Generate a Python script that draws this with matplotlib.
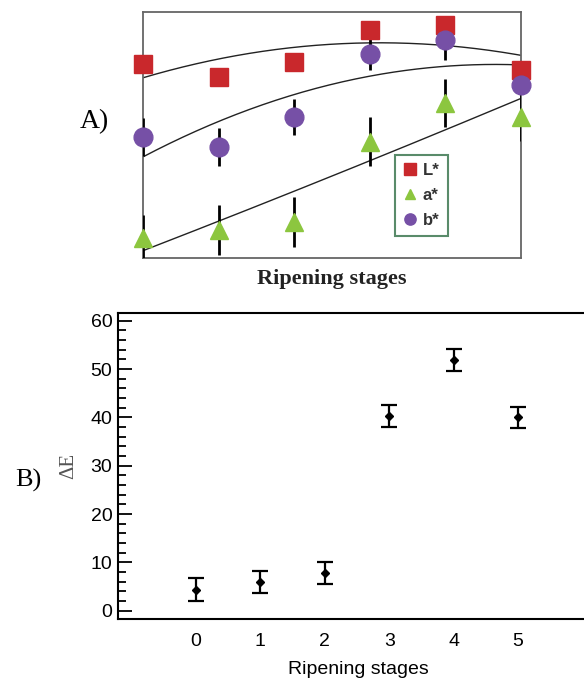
import numpy as np
import matplotlib
matplotlib.use("Agg")
import matplotlib.pyplot as plt
from matplotlib.ticker import MultipleLocator

# ---- Panel A data (relative units, no axis scale shown) ----
stages_a = [0, 1, 2, 3, 4, 5]
L_vals = [78.9, 73.6, 79.7, 92.7, 94.7, 76.4]
a_vals = [8.1, 11.4, 14.6, 47.2, 63.0, 57.3]
a_err = [9.4, 10.0, 10.0, 10.0, 9.8, 9.8]
b_vals = [49.2, 45.1, 57.3, 82.9, 88.6, 70.3]
b_err = [7.7, 7.6, 7.3, 6.5, 8.0, 4.0]

# ---- Panel B data ----
stages_b = [0, 1, 2, 3, 4, 5]
dE_vals = [4.4, 5.9, 7.8, 40.3, 51.9, 40.0]
dE_err = [2.4, 2.3, 2.3, 2.3, 2.3, 2.2]
yticks_b = [0, 10, 20, 30, 40, 50, 60]

RED = "#c9282c"
GREEN = "#8cc63f"
PURPLE = "#7650a6"

fig = plt.figure(figsize=(5.84, 6.78), dpi=100)

# ---------------- Panel A ----------------
axA = fig.add_axes([0.2449, 0.6195, 0.6473, 0.3628])
xs = np.linspace(0, 5, 200)
for vals in (L_vals, b_vals, a_vals):
    coef = np.polyfit(stages_a, vals, 2)
    axA.plot(xs, np.polyval(coef, xs), color="#222222", lw=1.0, zorder=2)

axA.errorbar(stages_a, b_vals, yerr=b_err, fmt="none", ecolor="black",
             elinewidth=2.0, capsize=0, zorder=3)
axA.errorbar(stages_a, a_vals, yerr=a_err, fmt="none", ecolor="black",
             elinewidth=2.0, capsize=0, zorder=3)
axA.plot(stages_a, L_vals, ls="none", marker="s", ms=13.5, color=RED,
         mec=RED, label="L*", zorder=4, clip_on=False)
axA.plot(stages_a, a_vals, ls="none", marker="^", ms=12.5, color=GREEN,
         mec=GREEN, label="a*", zorder=4, clip_on=False)
axA.plot(stages_a, b_vals, ls="none", marker="o", ms=13.5, color=PURPLE,
         mec=PURPLE, label="b*", zorder=5, clip_on=False)

axA.set_xlim(0, 5)
axA.set_ylim(0, 100)
axA.set_xticks([])
axA.set_yticks([])
for s in axA.spines.values():
    s.set_color("#666666")
    s.set_linewidth(1.3)
axA.set_xlabel("Ripening stages", family="Liberation Serif", fontweight="bold",
               fontsize=16, labelpad=8, color="#222222")

leg = axA.legend(loc="upper left", bbox_to_anchor=(0.667, 0.42), frameon=True,
                 fancybox=False, markerscale=0.6, handlelength=0.8,
                 handletextpad=0.35, borderpad=0.5, labelspacing=0.6,
                 borderaxespad=0,
                 prop={"family": "Liberation Sans", "weight": "bold", "size": 12})
leg.get_frame().set_edgecolor("#2f6e45")
leg.get_frame().set_linewidth(1.5)
for t in leg.get_texts():
    t.set_color("#333333")

fig.text(80 / 584, 1 - 122 / 678, "A)", family="Liberation Serif", fontsize=20,
         va="center", ha="left")

# ---------------- Panel B ----------------
axB = fig.add_axes([0.202, 0.087, 0.822, 0.4513])
axB.errorbar(stages_b, dE_vals, yerr=dE_err, fmt="D", color="black",
             ms=4.5, ecolor="black", elinewidth=1.6, capsize=6, capthick=1.6)
axB.set_xlim(-1.21, 6.24)
axB.set_ylim(-1.7, 61.6)
axB.set_yticks(yticks_b)
axB.yaxis.set_minor_locator(MultipleLocator(2))
axB.set_xticks(stages_b)
axB.tick_params(axis="y", which="major", direction="in", length=10, width=1.3,
                labelsize=14, pad=4)
axB.tick_params(axis="y", which="minor", direction="in", length=5.5, width=1.3)
axB.tick_params(axis="x", which="both", length=0, labelsize=14, pad=10)
for lab in axB.get_xticklabels() + axB.get_yticklabels():
    lab.set_family("Liberation Sans")
for s in axB.spines.values():
    s.set_linewidth(1.5)
axB.set_xlabel("Ripening stages", family="Liberation Sans", fontsize=14,
               labelpad=8)
axB.set_ylabel("ΔE", family="Liberation Serif", fontsize=15, color="#555555",
               labelpad=9)

fig.text(15 / 584, 1 - 480 / 678, "B)", family="Liberation Serif", fontsize=19,
         va="center", ha="left")

fig.savefig("out.png", dpi=100)
